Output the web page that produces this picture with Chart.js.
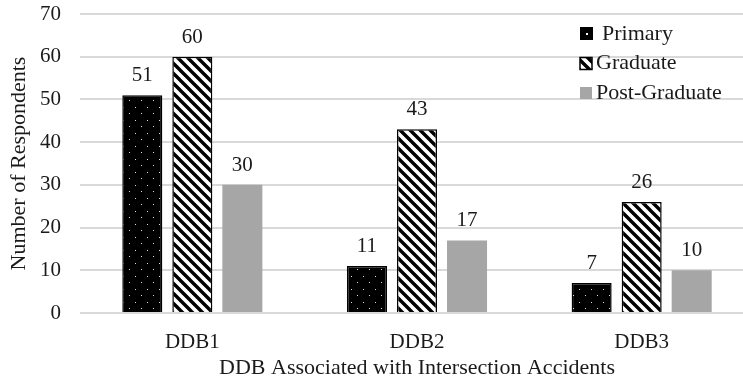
<!DOCTYPE html>
<html>
<head>
<meta charset="utf-8">
<script src="https://cdn.jsdelivr.net/npm/chart.js@4"></script>
<style>
  body { margin: 0; background: #fff; overflow: hidden; }
  canvas { display: block; }
</style>
</head>
<body>
<!-- a bit wider than the window: the plot runs off the right edge like the original -->
<canvas id="chart" width="754" height="381"></canvas>
<script>
// data
const categories = ['DDB1', 'DDB2', 'DDB3'];
const seriesNames = ['Primary', 'Graduate', 'Post-Graduate'];
const primary = [51, 11, 7];
const graduate = [60, 43, 26];
const postGraduate = [30, 17, 10];

const FONT = "'Liberation Serif', 'Times New Roman', serif";
const INK = '#1a1a1a';

// black with small staggered white dots
function dotPattern() {
    const c = document.createElement('canvas');
    c.width = 12; c.height = 13;
    const g = c.getContext('2d');
    g.fillStyle = '#000';
    g.fillRect(0, 0, 12, 13);
    g.fillStyle = '#e0e0e0';
    g.fillRect(3, 3, 1, 1);
    g.fillRect(9, 9, 1, 1);
    return g.createPattern(c, 'repeat');
}

// white with black "\" stripes
function stripePattern() {
    const s = 10;
    const c = document.createElement('canvas');
    c.width = s; c.height = s;
    const g = c.getContext('2d');
    g.fillStyle = '#fff';
    g.fillRect(0, 0, s, s);
    g.strokeStyle = '#000';
    g.lineWidth = 3.4;
    g.beginPath();
    g.moveTo(-3, -3); g.lineTo(s + 3, s + 3);
    g.moveTo(-3 - s, -3); g.lineTo(3, s + 3);
    g.moveTo(s - 3, -3); g.lineTo(2 * s + 3, s + 3);
    g.stroke();
    return g.createPattern(c, 'repeat');
}

const fills = [dotPattern(), stripePattern(), '#a6a6a6'];

// value labels on top of bars
const valueLabels = {
    id: 'valueLabels',
    afterDatasetsDraw(chart) {
        const ctx = chart.ctx;
        ctx.save();
        ctx.font = '21px ' + FONT;
        ctx.fillStyle = INK;
        ctx.textAlign = 'center';
        ctx.textBaseline = 'alphabetic';
        chart.data.datasets.forEach((ds, i) => {
            chart.getDatasetMeta(i).data.forEach((bar, j) => {
                ctx.fillText(ds.data[j], bar.x, bar.y - 14);
            });
        });
        ctx.restore();
    }
};

// legend drawn inside the plot, top right
const boxLegend = {
    id: 'boxLegend',
    afterDraw(chart) {
        const ctx = chart.ctx;
        const x = 580, y0 = 33, gap = 29.5;
        ctx.save();
        ctx.font = '22px ' + FONT;
        ctx.textBaseline = 'middle';
        chart.data.datasets.forEach((ds, i) => {
            const y = y0 + i * gap;
            if (i === 0) {
                ctx.fillStyle = '#000';
                ctx.fillRect(x, y - 6, 13, 13);
                ctx.fillStyle = '#fff';
                ctx.fillRect(x + 6, y, 2, 2);
            } else if (i === 1) {
                ctx.fillStyle = ds.backgroundColor;
                ctx.fillRect(x, y - 5, 12, 12);
                ctx.strokeStyle = '#000';
                ctx.lineWidth = 1.5;
                ctx.strokeRect(x, y - 5, 12, 12);
            } else {
                ctx.fillStyle = ds.backgroundColor;
                ctx.fillRect(x, y - 5, 12, 12);
            }
            ctx.fillStyle = INK;
            ctx.fillText(ds.label, i === 0 ? x + 22 : x + 16, y + 1);
        });
        ctx.restore();
    }
};

new Chart(document.getElementById('chart').getContext('2d'), {
    type: 'bar',
    data: {
        labels: categories,
        datasets: [primary, graduate, postGraduate].map((vals, i) => ({
            label: seriesNames[i],
            data: vals,
            backgroundColor: fills[i],
            borderColor: '#000',
            borderWidth: i < 2 ? 1.5 : 0,
            barPercentage: 0.8,
            categoryPercentage: 0.668
        }))
    },
    options: {
        responsive: false,
        animation: false,
        layout: { padding: { top: 14, right: 0, left: 6, bottom: 0 } },
        plugins: {
            legend: { display: false },
            tooltip: { enabled: false }
        },
        scales: {
            x: {
                grid: { display: false },
                border: { display: false },
                ticks: { color: INK, font: { family: FONT, size: 21 }, padding: 9 },
                title: {
                    display: true,
                    text: 'DDB Associated with Intersection Accidents',
                    color: INK,
                    font: { family: FONT, size: 22 },
                    padding: { top: 1, bottom: 0 }
                },
                afterFit(scale) { scale.height = 68; }
            },
            y: {
                min: 0,
                max: 70,
                ticks: { stepSize: 10, color: INK, font: { family: FONT, size: 21 }, padding: 19 },
                grid: { color: '#d9d9d9', lineWidth: 2, drawTicks: false },
                border: { display: false },
                title: {
                    display: true,
                    text: 'Number of Respondents',
                    color: INK,
                    font: { family: FONT, size: 22 },
                    padding: { top: 0, bottom: 2 }
                },
                afterFit(scale) {
                    scale.width = 74;
                    scale.paddingTop = 0;
                    scale.paddingBottom = 0;
                }
            }
        }
    },
    plugins: [valueLabels, boxLegend]
});
</script>
</body>
</html>
